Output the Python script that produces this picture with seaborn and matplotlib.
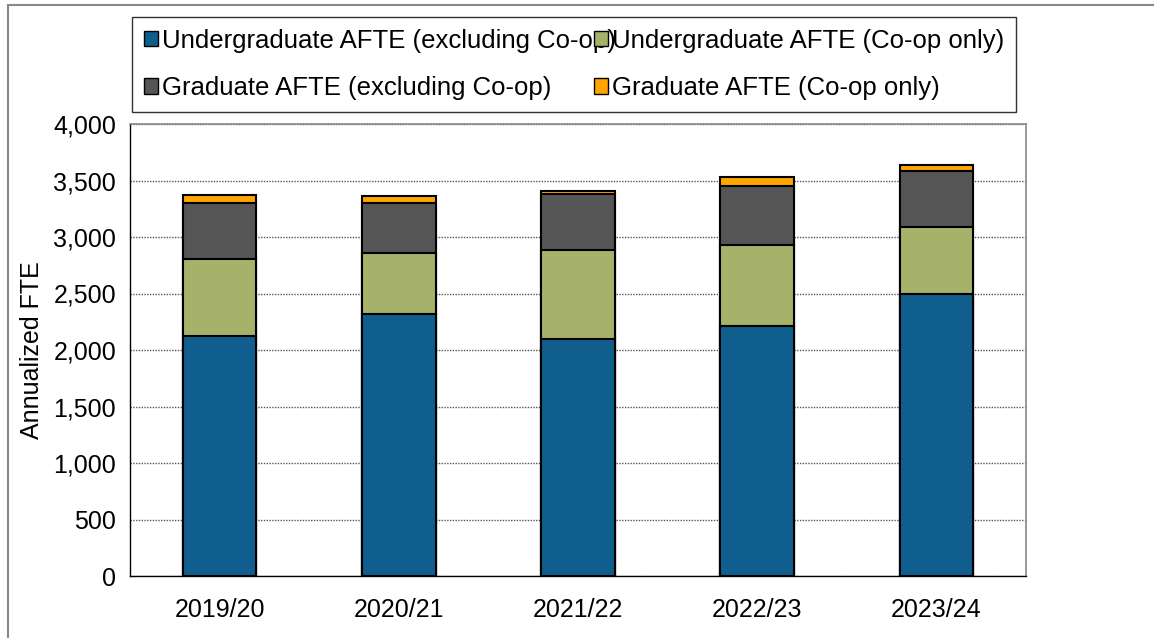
import numpy as np
import pandas as pd
import matplotlib
matplotlib.use("Agg")
import matplotlib.pyplot as plt
import seaborn as sns
from matplotlib.patches import Patch, Rectangle

# === DATA ===
years = ["2019/20", "2020/21", "2021/22", "2022/23", "2023/24"]
ug_excl = [2127, 2321, 2097, 2210, 2497]
ug_coop = [678, 537, 788, 723, 589]
grad_excl = [494, 441, 494, 514, 494]
grad_coop = [75, 66, 30, 88, 59]

series = ["Undergraduate AFTE (excluding Co-op)", "Undergraduate AFTE (Co-op only)",
          "Graduate AFTE (excluding Co-op)", "Graduate AFTE (Co-op only)"]
colors = ["#0F5E8E", "#A6B26A", "#555555", "#FFA500"]

df = pd.DataFrame({"year": years, series[0]: ug_excl, series[1]: ug_coop,
                   series[2]: grad_excl, series[3]: grad_coop})
cum = df[series].cumsum(axis=1)
cum["year"] = df["year"]

# === STYLE ===
sns.set_style("white")
plt.rcParams["font.family"] = ["Liberation Sans", "DejaVu Sans"]
plt.rcParams.update({"text.color": "black", "axes.labelcolor": "black",
                     "xtick.color": "black", "ytick.color": "black"})
FS = 18

W, H = 1154, 638
fig = plt.figure(figsize=(W / 100, H / 100), dpi=100)
ax = fig.add_axes([130 / W, 1 - 576 / H, 896 / W, 452 / H])

# draw stacked bars from the top layer down
for name, col in reversed(list(zip(series, colors))):
    sns.barplot(data=cum, x="year", y=name, color=col, width=0.41,
                edgecolor="black", linewidth=1.5, saturation=1, ax=ax, zorder=3)

ax.set_ylim(0, 4000)
ax.set_xlim(-0.5, 4.5)
ax.set_yticks(np.arange(0, 4001, 500))
ax.set_yticklabels([f"{v:,}" for v in range(0, 4001, 500)], fontsize=FS)
ax.yaxis.grid(True, linestyle=(0, (1, 1)), color="#555555", linewidth=1, zorder=0)
ax.set_axisbelow(True)

ax.set_xticks(np.arange(-0.5, 5, 1))
ax.set_xticklabels([])
ax.set_xticks(np.arange(5), minor=True)
ax.set_xticklabels(years, minor=True, fontsize=FS)
ax.tick_params(axis="x", which="major", direction="out", length=6, color="#333333")
ax.tick_params(axis="x", which="minor", length=0, pad=16)
ax.tick_params(axis="y", direction="out", length=5, color="#333333", pad=5)
ax.set_xlabel("")
ax.set_ylabel("Annualized FTE", fontsize=FS, labelpad=7)

for s in ["left", "bottom"]:
    ax.spines[s].set_color("black")
    ax.spines[s].set_linewidth(1)
for s in ["top", "right"]:
    ax.spines[s].set_visible(True)
    ax.spines[s].set_color("#888888")
    ax.spines[s].set_linewidth(1.2)

# legend: row-wise order for 2 columns
handles = [Patch(facecolor=c, edgecolor="black", linewidth=1) for c in colors]
order = [0, 2, 1, 3]
leg = fig.legend([handles[i] for i in order], [series[i] for i in order], ncol=2,
                 loc="upper left", bbox_to_anchor=(132 / W, 1 - 17 / H, 884 / W, 0.0),
                 mode="expand", fontsize=18.5, frameon=True, fancybox=False,
                 edgecolor="black", handlelength=0.55, handleheight=0.55,
                 handletextpad=0.15, labelspacing=0.9, borderpad=0.46,
                 columnspacing=0.0, borderaxespad=0)
leg.get_frame().set_linewidth(1)

# outer border
fig.patches.append(Rectangle((8 / W, -0.01), 1.0, 1 - 5 / H + 0.01, transform=fig.transFigure,
                             fill=False, edgecolor="#888888", linewidth=1.5))

fig.savefig("out.png", dpi=100)
